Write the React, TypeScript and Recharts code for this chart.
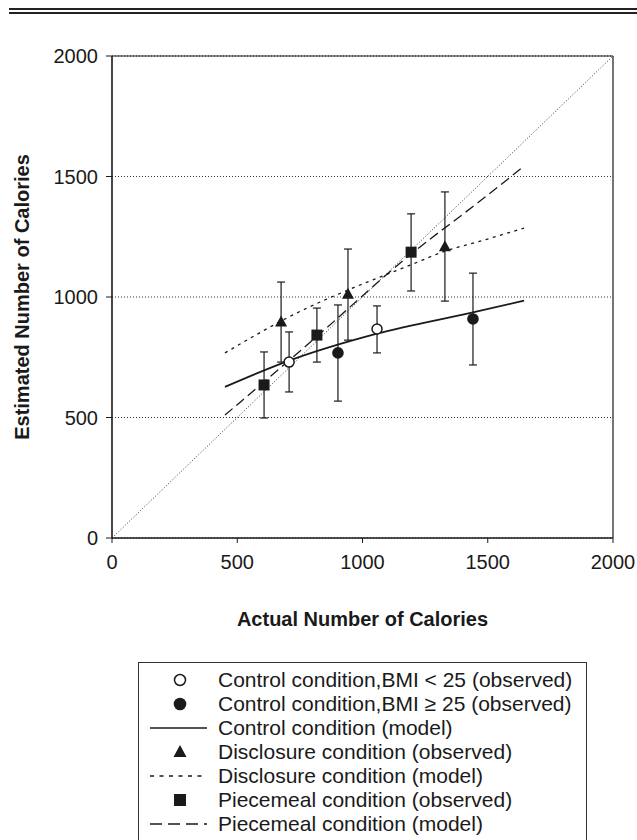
import React from "react";
import { ComposedChart, XAxis, YAxis, CartesianGrid, Line, Scatter, ErrorBar, ReferenceLine } from "recharts";

const font = "'Liberation Sans', Arial, sans-serif";
const ink = "#1a1a1a";

const axisTicks = [0, 500, 1000, 1500, 2000];

// observed means, error = [below, above]
const lowBmiX = [707, 1058];
const lowBmiY = [730, 867];
const lowBmiErr = [[124, 125], [99, 96]];

const highBmiX = [902, 1441];
const highBmiY = [768, 909];
const highBmiErr = [[200, 199], [191, 190]];

const disclosureX = [675, 942, 1329];
const disclosureY = [896, 1011, 1208];
const disclosureErr = [[166, 166], [190, 188], [225, 228]];

const piecemealX = [607, 818, 1194];
const piecemealY = [635, 842, 1186];
const piecemealErr = [[137, 137], [112, 112], [161, 159]];

// model curves
const controlModelX = [451, 707, 1058, 1441, 1645];
const controlModelY = [627, 736, 848, 936, 985];

const disclosureModelX = [451, 750, 942, 1190, 1329, 1481, 1645];
const disclosureModelY = [768, 940, 1029, 1132, 1190, 1235, 1286];

const piecemealModelX = [451, 802, 1190, 1469, 1645];
const piecemealModelY = [510, 822, 1175, 1398, 1543];

const diagonalX = [0, 2000];
const diagonalY = [0, 2000];

const legendLabels = [
  "Control condition,BMI < 25 (observed)",
  "Control condition,BMI \u2265 25 (observed)",
  "Control condition (model)",
  "Disclosure condition (observed)",
  "Disclosure condition (model)",
  "Piecemeal condition (observed)",
  "Piecemeal condition (model)",
];

const toPoints = (xs: number[], ys: number[], errs?: number[][]) =>
  xs.map((x, i) => ({ x, y: ys[i], err: errs ? errs[i] : undefined }));

const OpenCircle = (p: any) => <circle cx={p.cx} cy={p.cy} r={5} fill="#fff" stroke={ink} strokeWidth={1.5} />;
const FilledCircle = (p: any) => <circle cx={p.cx} cy={p.cy} r={5.8} fill={ink} />;
const Triangle = (p: any) => (
  <path d={`M${p.cx},${p.cy - 6.5} L${p.cx + 6},${p.cy + 4.5} L${p.cx - 6},${p.cy + 4.5} Z`} fill={ink} />
);
const Square = (p: any) => <rect x={p.cx - 5.5} y={p.cy - 5.5} width={11} height={11} fill={ink} />;

function LegendSymbol({ i }: { i: number }) {
  const c = 30;
  const m = 12;
  let el: React.ReactNode = null;
  if (i === 0) el = <circle cx={c} cy={m} r={5.5} fill="#fff" stroke={ink} strokeWidth={1.5} />;
  if (i === 1) el = <circle cx={c} cy={m} r={6.3} fill={ink} />;
  if (i === 2) el = <line x1={0} x2={57} y1={m} y2={m} stroke={ink} strokeWidth={1.5} />;
  if (i === 3) el = <path d={`M${c},${m - 7} L${c + 6.5},${m + 5} L${c - 6.5},${m + 5} Z`} fill={ink} />;
  if (i === 4) el = <line x1={0} x2={57} y1={m} y2={m} stroke={ink} strokeWidth={1.3} strokeDasharray="4 5.5" />;
  if (i === 5) el = <rect x={c - 6} y={m - 6} width={12} height={12} fill={ink} />;
  if (i === 6) el = <line x1={0} x2={57} y1={m} y2={m} stroke={ink} strokeWidth={1.3} strokeDasharray="12 6" />;
  return (
    <svg width={58} height={24} style={{ position: "absolute", left: 11, top: 0 }}>
      {el}
    </svg>
  );
}

export default function App() {
  return (
    <div style={{ position: "absolute", left: 0, top: 0, width: 637, height: 840, overflow: "hidden", background: "#fff", fontFamily: font }}>
      <div style={{ position: "absolute", left: 9, right: 0, top: 8, height: 2, background: "#222" }} />
      <div style={{ position: "absolute", left: 9, right: 0, top: 12, height: 2, background: "#222" }} />

      <ComposedChart width={637} height={840} margin={{ top: 56, right: 24, bottom: 242, left: 0 }}>
        <CartesianGrid vertical={false} stroke="#333" strokeDasharray="1 2" />
        <XAxis
          type="number"
          dataKey="x"
          domain={[0, 2000]}
          ticks={axisTicks}
          allowDataOverflow
          height={60}
          tickSize={5}
          tickMargin={12}
          axisLine={{ stroke: ink, strokeWidth: 1.6 }}
          tickLine={{ stroke: ink }}
          tick={{ fill: ink, fontSize: 20, fontFamily: font }}
          label={{ value: "Actual Number of Calories", position: "bottom", offset: 14, fill: ink, fontSize: 20, fontWeight: "bold", fontFamily: font }}
        />
        <YAxis
          type="number"
          dataKey="y"
          domain={[0, 2000]}
          ticks={axisTicks}
          allowDataOverflow
          width={112}
          tickSize={6}
          tickMargin={8}
          axisLine={{ stroke: ink, strokeWidth: 1.6 }}
          tickLine={{ stroke: ink }}
          tick={{ fill: ink, fontSize: 20, fontFamily: font }}
          label={{ value: "Estimated Number of Calories", angle: -90, position: "insideLeft", offset: 22, style: { textAnchor: "middle" }, fill: ink, fontSize: 20, fontWeight: "bold", fontFamily: font }}
        />
        <ReferenceLine y={2000} stroke={ink} strokeWidth={1.2} />
        <ReferenceLine x={2000} stroke={ink} strokeWidth={1.2} />

        <Line data={toPoints(diagonalX, diagonalY)} dataKey="y" stroke="#333" strokeWidth={1} strokeDasharray="1 2" dot={false} isAnimationActive={false} />
        <Line data={toPoints(controlModelX, controlModelY)} type="monotone" dataKey="y" stroke={ink} strokeWidth={1.8} dot={false} isAnimationActive={false} />
        <Line data={toPoints(disclosureModelX, disclosureModelY)} type="monotone" dataKey="y" stroke={ink} strokeWidth={1.3} strokeDasharray="3 4.5" dot={false} isAnimationActive={false} />
        <Line data={toPoints(piecemealModelX, piecemealModelY)} type="monotone" dataKey="y" stroke={ink} strokeWidth={1.3} strokeDasharray="10 5" dot={false} isAnimationActive={false} />

        <Scatter data={toPoints(lowBmiX, lowBmiY, lowBmiErr)} dataKey="y" shape={OpenCircle} isAnimationActive={false}>
          <ErrorBar dataKey="err" direction="y" width={4} stroke={ink} strokeWidth={1.2} />
        </Scatter>
        <Scatter data={toPoints(highBmiX, highBmiY, highBmiErr)} dataKey="y" shape={FilledCircle} isAnimationActive={false}>
          <ErrorBar dataKey="err" direction="y" width={4} stroke={ink} strokeWidth={1.2} />
        </Scatter>
        <Scatter data={toPoints(disclosureX, disclosureY, disclosureErr)} dataKey="y" shape={Triangle} isAnimationActive={false}>
          <ErrorBar dataKey="err" direction="y" width={4} stroke={ink} strokeWidth={1.2} />
        </Scatter>
        <Scatter data={toPoints(piecemealX, piecemealY, piecemealErr)} dataKey="y" shape={Square} isAnimationActive={false}>
          <ErrorBar dataKey="err" direction="y" width={4} stroke={ink} strokeWidth={1.2} />
        </Scatter>
      </ComposedChart>

      <div style={{ position: "absolute", left: 138, top: 662, width: 449, height: 200, border: "1px solid #333", boxSizing: "border-box" }}>
        {legendLabels.map((label, i) => (
          <div key={label} style={{ position: "absolute", left: 0, top: 5 + i * 24, height: 24, width: 440 }}>
            <LegendSymbol i={i} />
            <span style={{ position: "absolute", left: 79, top: 0, lineHeight: "24px", fontSize: 21, color: ink, whiteSpace: "nowrap" }}>{label}</span>
          </div>
        ))}
      </div>
    </div>
  );
}
